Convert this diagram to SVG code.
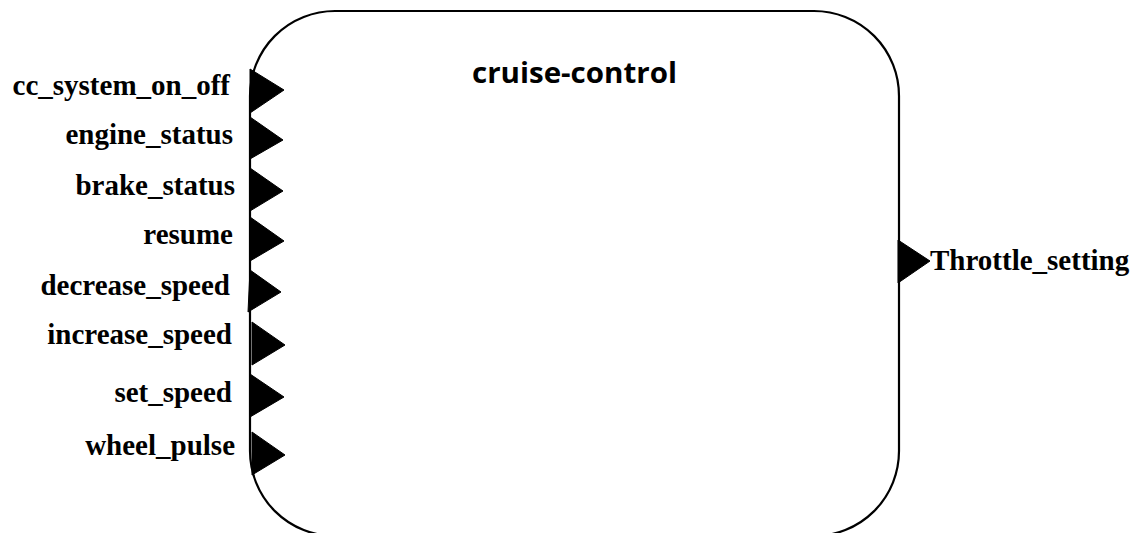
<svg xmlns="http://www.w3.org/2000/svg" width="1138" height="533" viewBox="0 0 1138 533">
<style>
.lbl{font-family:"Liberation Serif","Times New Roman",serif;font-weight:bold;font-size:29px;fill:#000}
.title{font-family:"Open Sans","Liberation Sans",Arial,sans-serif;font-weight:bold;font-size:28px;fill:#000}
.box{fill:#fff;stroke:#000;stroke-width:2.2}
.port{fill:#000;stroke:#000;stroke-width:1}
</style>
<rect width="1138" height="533" fill="#fff"/>
<g id="cruise-control">
<rect class="box" x="250" y="11" width="649" height="525" rx="85" ry="85"/>
<text class="title" x="472" y="83" textLength="205" lengthAdjust="spacingAndGlyphs">cruise-control</text>
</g>
<g id="ports">
<g id="port-cc_system_on_off"><polygon class="port" points="250,69 284,90 250,113"/><text class="lbl" x="230" y="95" text-anchor="end">cc_system_on_off</text></g>
<g id="port-engine_status"><polygon class="port" points="250,117 283,140 250,159"/><text class="lbl" x="233" y="144" text-anchor="end">engine_status</text></g>
<g id="port-brake_status"><polygon class="port" points="250,168 283,191 250,211"/><text class="lbl" x="235" y="195" text-anchor="end">brake_status</text></g>
<g id="port-resume"><polygon class="port" points="250,217 284,241 250,261"/><text class="lbl" x="233" y="244" text-anchor="end">resume</text></g>
<g id="port-decrease_speed"><polygon class="port" points="250,270 281,292 248,312"/><text class="lbl" x="230" y="295" text-anchor="end">decrease_speed</text></g>
<g id="port-increase_speed"><polygon class="port" points="252,322 285,345 252,365"/><text class="lbl" x="232" y="344" text-anchor="end">increase_speed</text></g>
<g id="port-set_speed"><polygon class="port" points="250,374 284,397 250,417"/><text class="lbl" x="232" y="402" text-anchor="end">set_speed</text></g>
<g id="port-wheel_pulse"><polygon class="port" points="252,432 285,455 252,475"/><text class="lbl" x="235" y="455" text-anchor="end">wheel_pulse</text></g>
<g id="port-Throttle_setting"><polygon class="port" points="898,240 930,261 898,283"/><text class="lbl" x="930" y="270">Throttle_setting</text></g>
</g>
<g id="connectors"></g>
</svg>
